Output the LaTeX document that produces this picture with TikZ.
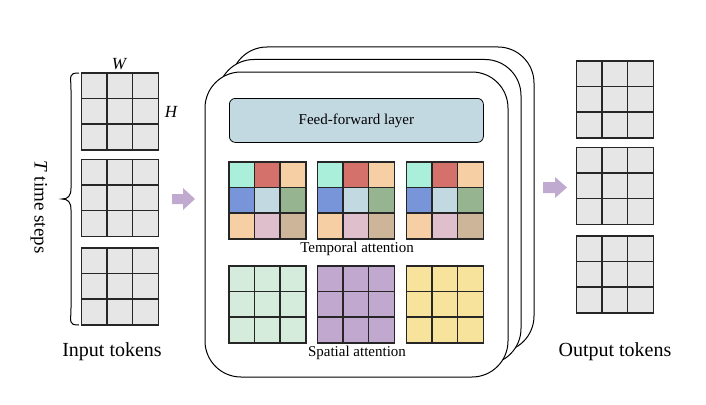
\documentclass[tikz,border=0pt]{standalone}
\usepackage{fontspec}
\setmainfont{Liberation Serif}
\definecolor{cellgrey}{HTML}{E6E6E6}
\definecolor{cmint}{HTML}{A9EFDA}
\definecolor{cred}{HTML}{D4716A}
\definecolor{cpeach}{HTML}{F6D0A4}
\definecolor{cblue}{HTML}{7895DA}
\definecolor{clblue}{HTML}{C3D9E2}
\definecolor{cgreen}{HTML}{95B48F}
\definecolor{cpink}{HTML}{E0BFCC}
\definecolor{ctan}{HTML}{CDB59A}
\definecolor{sgreen}{HTML}{D5EBDC}
\definecolor{spurple}{HTML}{C0A8CF}
\definecolor{syellow}{HTML}{F8E39C}
\definecolor{ffblue}{HTML}{C3D9E2}
\definecolor{arrowc}{HTML}{C0AAD0}
\tikzset{
  gridline/.style={line width=1.3pt, draw=black!85},
  layerbox/.style={draw=black, line width=1pt, fill=white, rounded corners=36pt},
  bigarrow/.style={fill=arrowc, draw=none},
  biglabel/.style={font=\fontsize{20}{22}\selectfont, inner sep=0pt},
  smalllabel/.style={font=\fontsize{15}{17}\selectfont, inner sep=0pt},
}
\newcommand{\tokgrid}[4]{%
  % #1 name, #2 left x, #3 top y, #4 list of nine colours
  \edef\mygridlist{#4}%
  \foreach \cc [count=\ii from 0] in \mygridlist {
    \pgfmathtruncatemacro\colidx{mod(\ii,3)}
    \pgfmathtruncatemacro\rowidx{div(\ii,3)}
    \fill[\cc] ({#2+\colidx*25.5},{#3+\rowidx*25.5}) rectangle ++(25.5,25.5);
  }
  \node[draw=none, minimum size=76.5pt, inner sep=0pt, anchor=north west] (#1) at (#2,#3) {};
  \draw[gridline] (#1.north west) rectangle (#1.south east);
  \draw[gridline] ({#2+25.5},#3) -- ++(0,76.5) ({#2+51},#3) -- ++(0,76.5);
  \draw[gridline] (#2,{#3+25.5}) -- ++(76.5,0) (#2,{#3+51}) -- ++(76.5,0);
}
\newcommand{\greyset}{cellgrey,cellgrey,cellgrey,cellgrey,cellgrey,cellgrey,cellgrey,cellgrey,cellgrey}
\newcommand{\tempset}{cmint,cred,cpeach,cblue,clblue,cgreen,cpeach,cpink,ctan}
\begin{document}
\begin{tikzpicture}[x=1pt, y=-1pt]
\useasboundingbox (0,0) rectangle (706,404);
% input tokens
\tokgrid{in1}{81.5}{73}{\greyset}
\tokgrid{in2}{81.5}{159.5}{\greyset}
\tokgrid{in3}{81.5}{248}{\greyset}
\node[font=\fontsize{17}{19}\selectfont\itshape, inner sep=0pt] (wlab) at (119,64) {W};
\node[font=\fontsize{17}{19}\selectfont\itshape, inner sep=0pt] (hlab) at (171,112) {H};
\draw[line width=1pt] (79,73) .. controls (68,73) and (71,76) .. (71,90) -- (71,188)
  .. controls (71,196) and (68,199) .. (62,199)
  .. controls (68,199) and (71,202) .. (71,210) -- (71,308)
  .. controls (71,322) and (68,325) .. (79,325);
\node[biglabel, font=\fontsize{19}{21}\selectfont, rotate=-90] (tlab) at (39,207) {\textit{T} time steps};
\node[biglabel] (inlab) at (112,352) {Input tokens};
% arrow 1
\fill[bigarrow] (172,194) -- (183,194) -- (183,188) -- (195,199) -- (183,210) -- (183,204) -- (172,204) -- cycle;
% layer boxes
\draw[layerbox] (231,47) rectangle (534,352);
\draw[layerbox] (218,59.5) rectangle (521,364.5);
\draw[layerbox] (205,72) rectangle (508,377);
\node[draw=black, line width=0.8pt, fill=ffblue, rounded corners=6pt, minimum width=254pt, minimum height=44pt, anchor=north west, smalllabel] (ff) at (229,98) {Feed-forward layer};
% temporal
\tokgrid{t1}{229}{162}{\tempset}
\tokgrid{t2}{317.5}{162}{\tempset}
\tokgrid{t3}{406.5}{162}{\tempset}
\node[smalllabel] (tlabel) at (357,249) {Temporal attention};
% spatial
\tokgrid{s1}{229}{266}{sgreen,sgreen,sgreen,sgreen,sgreen,sgreen,sgreen,sgreen,sgreen}
\tokgrid{s2}{317.5}{266}{spurple,spurple,spurple,spurple,spurple,spurple,spurple,spurple,spurple}
\tokgrid{s3}{406.5}{266}{syellow,syellow,syellow,syellow,syellow,syellow,syellow,syellow,syellow}
\node[smalllabel] (slabel) at (357,353) {Spatial attention};
% arrow 2
\fill[bigarrow] (543,182) -- (555,182) -- (555,177) -- (567,187.5) -- (555,198) -- (555,193) -- (543,193) -- cycle;
% output tokens
\tokgrid{o1}{576.5}{61}{\greyset}
\tokgrid{o2}{576.5}{147.5}{\greyset}
\tokgrid{o3}{576.5}{236}{\greyset}
\node[biglabel] (outlab) at (615,352) {Output tokens};
\end{tikzpicture}
\end{document}
